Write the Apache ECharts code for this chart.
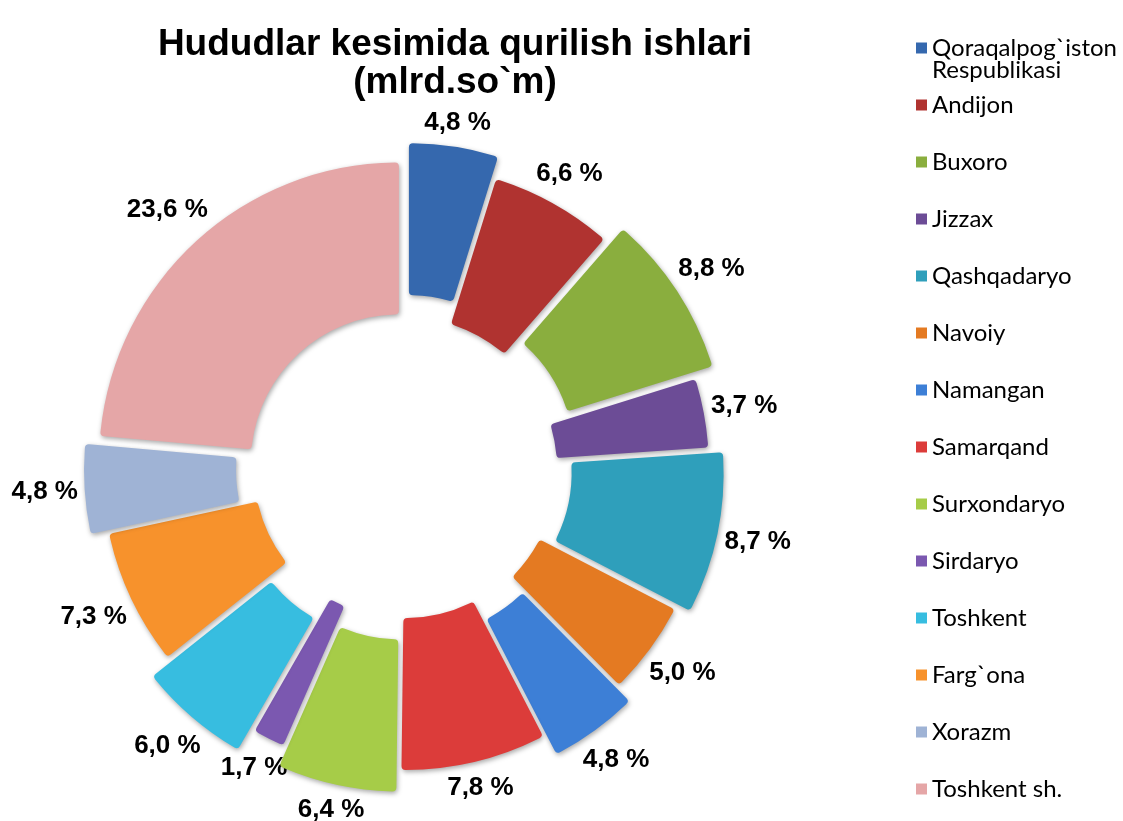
<!DOCTYPE html>
<html style="height: 100%">
<head>
    <meta charset="utf-8">
    <title>Hududlar kesimida qurilish ishlari</title>
    <script src="https://cdn.jsdelivr.net/npm/echarts@6/dist/echarts.min.js"></script>
</head>
<body style="height: 100%; margin: 0; background: #fff">
<div id="container" style="width: 1123px; height: 821px"></div>

<script type="text/javascript">

    // regions and their share, %
    let regions = ['Qoraqalpog`iston Respublikasi', 'Andijon', 'Buxoro', 'Jizzax', 'Qashqadaryo', 'Navoiy',
        'Namangan', 'Samarqand', 'Surxondaryo', 'Sirdaryo', 'Toshkent', 'Farg`ona', 'Xorazm', 'Toshkent sh.']
    let shares = [4.8, 6.6, 8.8, 3.7, 8.7, 5.0, 4.8, 7.8, 6.4, 1.7, 6.0, 7.3, 4.8, 23.6]
    let colors = ['#3568ae', '#b03330', '#8aae3e', '#6c4c96', '#2f9fbb', '#e47a22',
        '#3d7fd6', '#dc3c3a', '#a6cc48', '#7b58b0', '#37bde0', '#f7922c', '#9fb3d5', '#e5a6a7']
    // how far each slice is pulled out of the ring, px
    let explode = [26, 4, 25, 4, 19, 4, 23, 1, 23, 2, 27, 3, 21, 9]

    let cx = 405, cy = 469, rIn = 148, rOut = 300
    let total = shares.reduce(function (a, b) { return a + b }, 0)

    function pct(v) {
        return v.toFixed(1).replace('.', ',') + ' %'
    }

    // one pie per slice, so that every slice can have its own explosion
    let series = regions.map(function (name, k) {
        return {
            type: 'pie',
            center: [cx, cy],
            radius: [rIn, rOut],
            startAngle: 90,
            selectedMode: 'multiple',
            selectedOffset: explode[k],
            silent: true,
            label: {show: false},
            labelLine: {show: false},
            data: regions.map(function (n, i) {
                return {
                    name: n,
                    value: shares[i],
                    selected: i === k,
                    itemStyle: i === k ? {
                        color: colors[i],
                        borderRadius: 4,
                        shadowBlur: 5,
                        shadowColor: 'rgba(0,0,0,0.35)',
                        shadowOffsetX: 1,
                        shadowOffsetY: 2
                    } : {color: 'rgba(0,0,0,0)'}
                }
            })
        }
    })

    // transparent pie that only carries the percent labels
    series.push({
        type: 'pie',
        center: [cx, cy],
        radius: [rIn, rOut],
        startAngle: 90,
        silent: true,
        itemStyle: {color: 'rgba(0,0,0,0)'},
        label: {
            show: true,
            position: 'inside',
            formatter: function (p) { return pct(p.value) },
            fontFamily: 'Liberation Sans',
            fontWeight: 'bold',
            fontSize: 26,
            color: '#000'
        },
        labelLine: {show: false},
        labelLayout: function (p) {
            let i = p.dataIndex
            let before = 0
            for (let j = 0; j < i; j++) before += shares[j]
            let a = (before + shares[i] / 2) / total * 2 * Math.PI
            let dx = Math.sin(a), dy = -Math.cos(a)
            let w = p.labelRect.width, h = p.labelRect.height
            let r = rOut + explode[i] + 6 + Math.abs(dx) * w / 2 + Math.abs(dy) * h / 2
            return {x: cx + dx * r, y: cy + dy * r, align: 'center', verticalAlign: 'middle'}
        },
        data: regions.map(function (name, i) { return {name: name, value: shares[i]} })
    })

    let dom = document.getElementById("container");
    let chart = echarts.init(dom);

    chart.setOption({
        animation: false,
        title: {
            text: 'Hududlar kesimida qurilish ishlari\n(mlrd.so`m)',
            left: 450,
            top: 21,
            textAlign: 'center',
            textStyle: {
                fontFamily: 'Liberation Sans',
                fontWeight: 'bold',
                fontSize: 37,
                lineHeight: 38,
                color: '#000'
            }
        },
        legend: {
            orient: 'vertical',
            left: 911,
            top: 29,
            itemWidth: 11,
            itemHeight: 11,
            itemGap: 29,
            icon: 'rect',
            data: regions.map(function (name, i) {
                return {name: name, itemStyle: {color: colors[i]}}
            }),
            formatter: function (name) {
                return name === 'Qoraqalpog`iston Respublikasi' ? 'Qoraqalpog`iston' : name
            },
            textStyle: {
                fontFamily: 'Lato',
                fontSize: 24,
                lineHeight: 28,
                color: '#000'
            }
        },
        graphic: [{
            type: 'text',
            left: 932,
            top: 58,
            style: {text: 'Respublikasi', font: '24px Lato', fill: '#000'}
        }],
        series: series
    })

</script>
</body>
</html>
